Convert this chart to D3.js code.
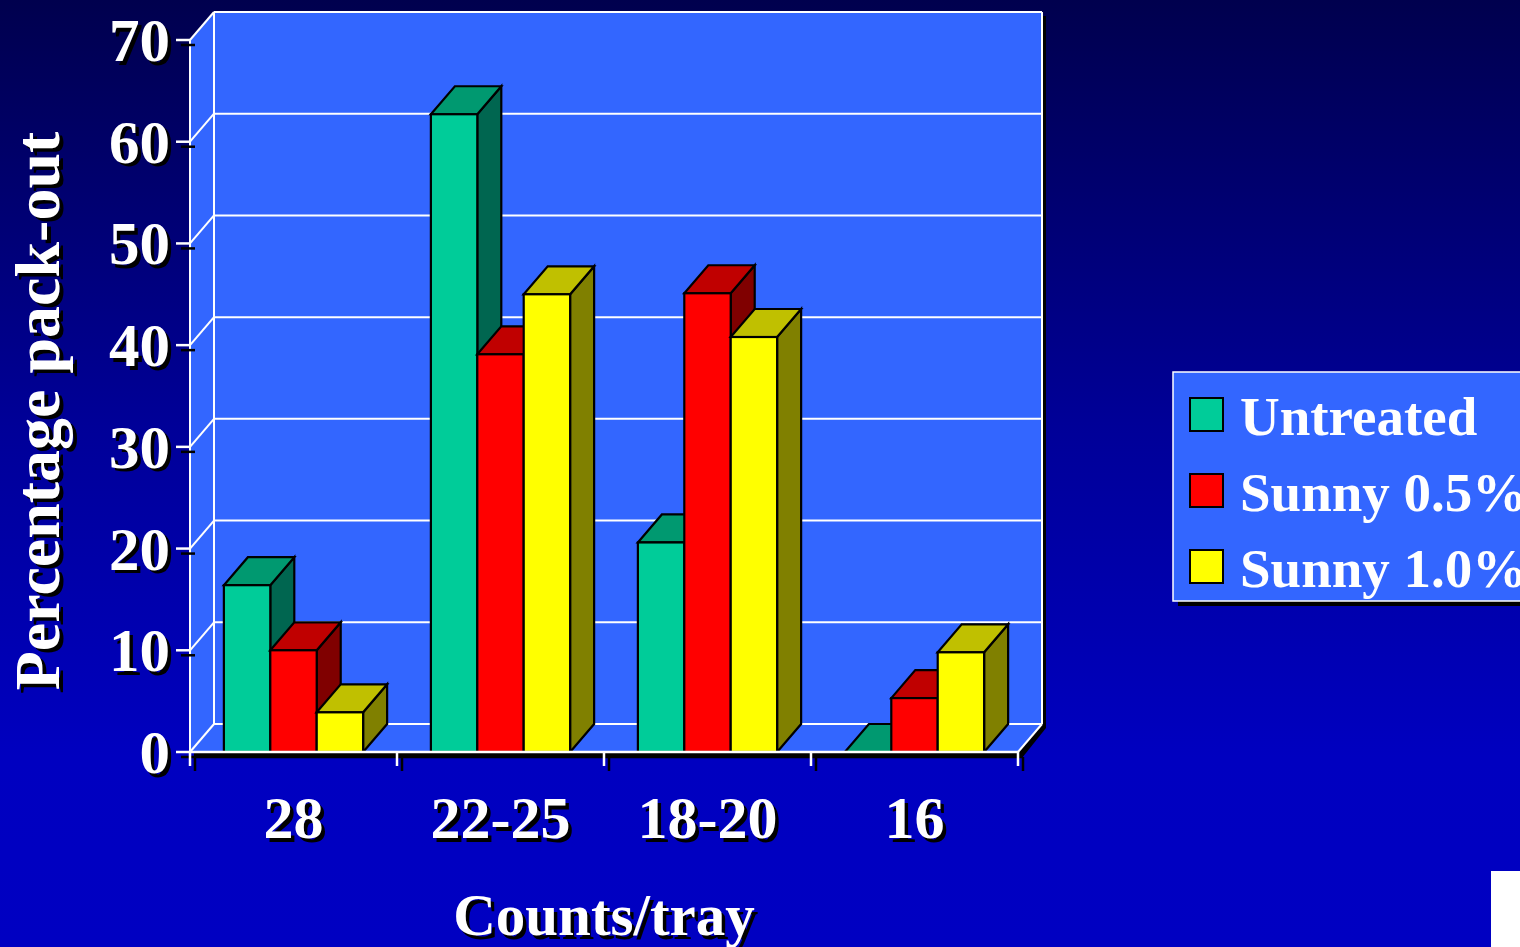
<!DOCTYPE html>
<html>
<head>
<meta charset="utf-8">
<script src="https://cdn.jsdelivr.net/npm/d3@7"></script>
<style>
  html, body { margin: 0; padding: 0; overflow: hidden; background: #0000c0; }
  svg { display: block; }
  text { font-family: "Liberation Serif", "Times New Roman", serif; font-weight: bold; }
</style>
</head>
<body>
<svg id="chart" width="1520" height="947"></svg>
<script>
// Pack-out by count size per tray
const categories = ["28", "22-25", "18-20", "16"];
const seriesNames = ["Untreated", "Sunny 0.5%", "Sunny 1.0%"];
const untreated = [16.4, 62.7, 20.6, 0];
const sunny05 = [10.0, 39.1, 45.1, 5.3];
const sunny10 = [3.9, 45.0, 40.8, 9.8];
const yTicks = [0, 10, 20, 30, 40, 50, 60, 70];
const xTitle = "Counts/tray";
const yTitle = "Percentage pack-out";

const seriesValues = [untreated, sunny05, sunny10];

// face colours: front, top, side
const palette = [
  { front: "#00cc99", top: "#009970", side: "#006650" },
  { front: "#ff0000", top: "#c00000", side: "#800000" },
  { front: "#ffff00", top: "#c0c000", side: "#808000" }
];

const W = 1520, H = 947;
const svg = d3.select("#chart");

// background gradient
const defs = svg.append("defs");
const grad = defs.append("linearGradient").attr("id", "bg").attr("x1", 0).attr("y1", 0).attr("x2", 0).attr("y2", 1);
grad.append("stop").attr("offset", "0%").attr("stop-color", "#00004e");
grad.append("stop").attr("offset", "45%").attr("stop-color", "#000098");
grad.append("stop").attr("offset", "80%").attr("stop-color", "#0000c0");
grad.append("stop").attr("offset", "100%").attr("stop-color", "#0000c2");
svg.append("rect").attr("width", W).attr("height", H).attr("fill", "url(#bg)");

// plot geometry (front plane) and depth offset
const x0 = 190, x1 = 1018, yBase = 752, yTop = 40;
const dx = 24, dy = -28;

const y = d3.scaleLinear().domain([0, 70]).range([yBase, yTop]);
const x = d3.scaleBand().domain(categories).range([x0, x1]).paddingInner(0).paddingOuter(0);
const xs = d3.scaleBand().domain(seriesNames).range([0, x.bandwidth()]).paddingInner(0).paddingOuter(0.73);

const wallFill = "#3366ff";
const pts = a => a.map(p => p.join(",")).join(" ");

// shadow of walls / floor
const sh = svg.append("g").attr("fill", "#000");
sh.append("polygon").attr("points", pts([
  [x0 + dx + 4, y(70) + dy + 4], [x1 + dx + 4, y(70) + dy + 4], [x1 + dx + 4, yBase + dy + 4],
  [x1 + 4, yBase + 6], [x0 + 4, yBase + 6], [x0 + 4, y(70) + 4]
]));

// back wall
svg.append("rect")
  .attr("x", x0 + dx).attr("y", y(70) + dy)
  .attr("width", x1 - x0).attr("height", y(0) - y(70))
  .attr("fill", wallFill);
// left wall
svg.append("polygon").attr("points", pts([
  [x0, y(70)], [x0 + dx, y(70) + dy], [x0 + dx, yBase + dy], [x0, yBase]
])).attr("fill", wallFill);
// floor
svg.append("polygon").attr("points", pts([
  [x0, yBase], [x0 + dx, yBase + dy], [x1 + dx, yBase + dy], [x1, yBase]
])).attr("fill", wallFill);

// gridlines
const grid = svg.append("g").attr("stroke", "#fff").attr("stroke-width", 2).attr("fill", "none");
yTicks.forEach(t => {
  grid.append("line").attr("x1", x0 + dx).attr("x2", x1 + dx).attr("y1", y(t) + dy).attr("y2", y(t) + dy);
  grid.append("line").attr("x1", x0).attr("x2", x0 + dx).attr("y1", y(t)).attr("y2", y(t) + dy);
});
grid.append("line").attr("x1", x0 + dx).attr("x2", x0 + dx).attr("y1", y(70) + dy).attr("y2", yBase + dy);
grid.append("line").attr("x1", x1 + dx).attr("x2", x1 + dx).attr("y1", y(70) + dy).attr("y2", yBase + dy);
grid.append("line").attr("x1", x0).attr("x2", x0).attr("y1", y(70)).attr("y2", yBase);
grid.append("line").attr("x1", x1).attr("x2", x1 + dx).attr("y1", yBase).attr("y2", yBase + dy);

// 3D bars
const bars = svg.append("g").attr("stroke", "#000").attr("stroke-width", 2.2).attr("stroke-linejoin", "miter");
categories.forEach((c, ci) => {
  seriesNames.forEach((s, si) => {
    const v = seriesValues[si][ci];
    const bx = x(c) + xs(s), bw = xs.bandwidth();
    const yv = y(v), y0 = y(0);
    const col = palette[si];
    const g = bars.append("g");
    g.append("polygon").attr("fill", col.side).attr("points", pts([
      [bx + bw, yv], [bx + bw + dx, yv + dy], [bx + bw + dx, y0 + dy], [bx + bw, y0]
    ]));
    g.append("polygon").attr("fill", col.top).attr("points", pts([
      [bx, yv], [bx + dx, yv + dy], [bx + bw + dx, yv + dy], [bx + bw, yv]
    ]));
    g.append("rect").attr("fill", col.front)
      .attr("x", bx).attr("y", yv).attr("width", bw).attr("height", y0 - yv);
  });
});

// axes (white with dark offset shadow)
function axisLines(color, ox, oy) {
  const g = svg.append("g").attr("stroke", color).attr("stroke-width", 2.5);
  g.append("line").attr("x1", x0 + ox).attr("x2", x1 + ox).attr("y1", yBase + oy).attr("y2", yBase + oy);
  const xTickPos = categories.map(c => x(c)).concat([x1]);
  xTickPos.forEach(xp => {
    g.append("line").attr("x1", xp + ox).attr("x2", xp + ox).attr("y1", yBase + oy).attr("y2", yBase + 14 + oy);
  });
  yTicks.forEach(t => {
    g.append("line").attr("x1", x0 - 14 + ox).attr("x2", x0 + ox).attr("y1", y(t) + oy).attr("y2", y(t) + oy);
  });
}
axisLines("#000", 5, 5);
axisLines("#fff", 0, 0);

const layers = [["#000", 3.5], ["#fff", 0]];

// y tick labels
const yl = svg.append("g");
yTicks.forEach(t => {
  layers.forEach(([fill, o]) => {
    yl.append("text").text(t).attr("x", 170 + o).attr("y", y(t) + 21 + o)
      .attr("font-size", 61).attr("fill", fill).attr("text-anchor", "end");
  });
});

// category labels
const xl = svg.append("g");
categories.forEach(c => {
  layers.forEach(([fill, o]) => {
    xl.append("text").text(c).attr("x", x(c) + x.bandwidth() / 2 + o).attr("y", 838 + o)
      .attr("font-size", 60).attr("fill", fill).attr("text-anchor", "middle");
  });
});

// axis titles
layers.forEach(([fill, o]) => {
  svg.append("text").text(xTitle).attr("x", (x0 + x1) / 2 + o).attr("y", 935 + o)
    .attr("font-size", 59).attr("fill", fill).attr("text-anchor", "middle");
  svg.append("text").text(yTitle)
    .attr("transform", `translate(${59 + o},${411 + o}) rotate(-90)`)
    .attr("font-size", 64).attr("fill", fill).attr("text-anchor", "middle");
});

// legend
const lg = svg.append("g");
const lx = 1173, ly = 372, lw = 360, lh = 229;
lg.append("rect").attr("x", lx + 5).attr("y", ly + 5).attr("width", lw).attr("height", lh).attr("fill", "#000");
lg.append("rect").attr("x", lx).attr("y", ly).attr("width", lw).attr("height", lh)
  .attr("fill", wallFill).attr("stroke", "#fff").attr("stroke-width", 1.5);
seriesNames.forEach((s, i) => {
  const sy = 398 + i * 76;
  lg.append("rect").attr("x", 1190).attr("y", sy).attr("width", 33).attr("height", 33)
    .attr("fill", palette[i].front).attr("stroke", "#000").attr("stroke-width", 2);
  lg.append("text").text(s).attr("x", 1240).attr("y", sy + 37)
    .attr("font-size", 55).attr("fill", "#fff");
});

// white corner block
svg.append("rect").attr("x", 1491).attr("y", 871).attr("width", 29).attr("height", 76).attr("fill", "#fff");
</script>
</body>
</html>
